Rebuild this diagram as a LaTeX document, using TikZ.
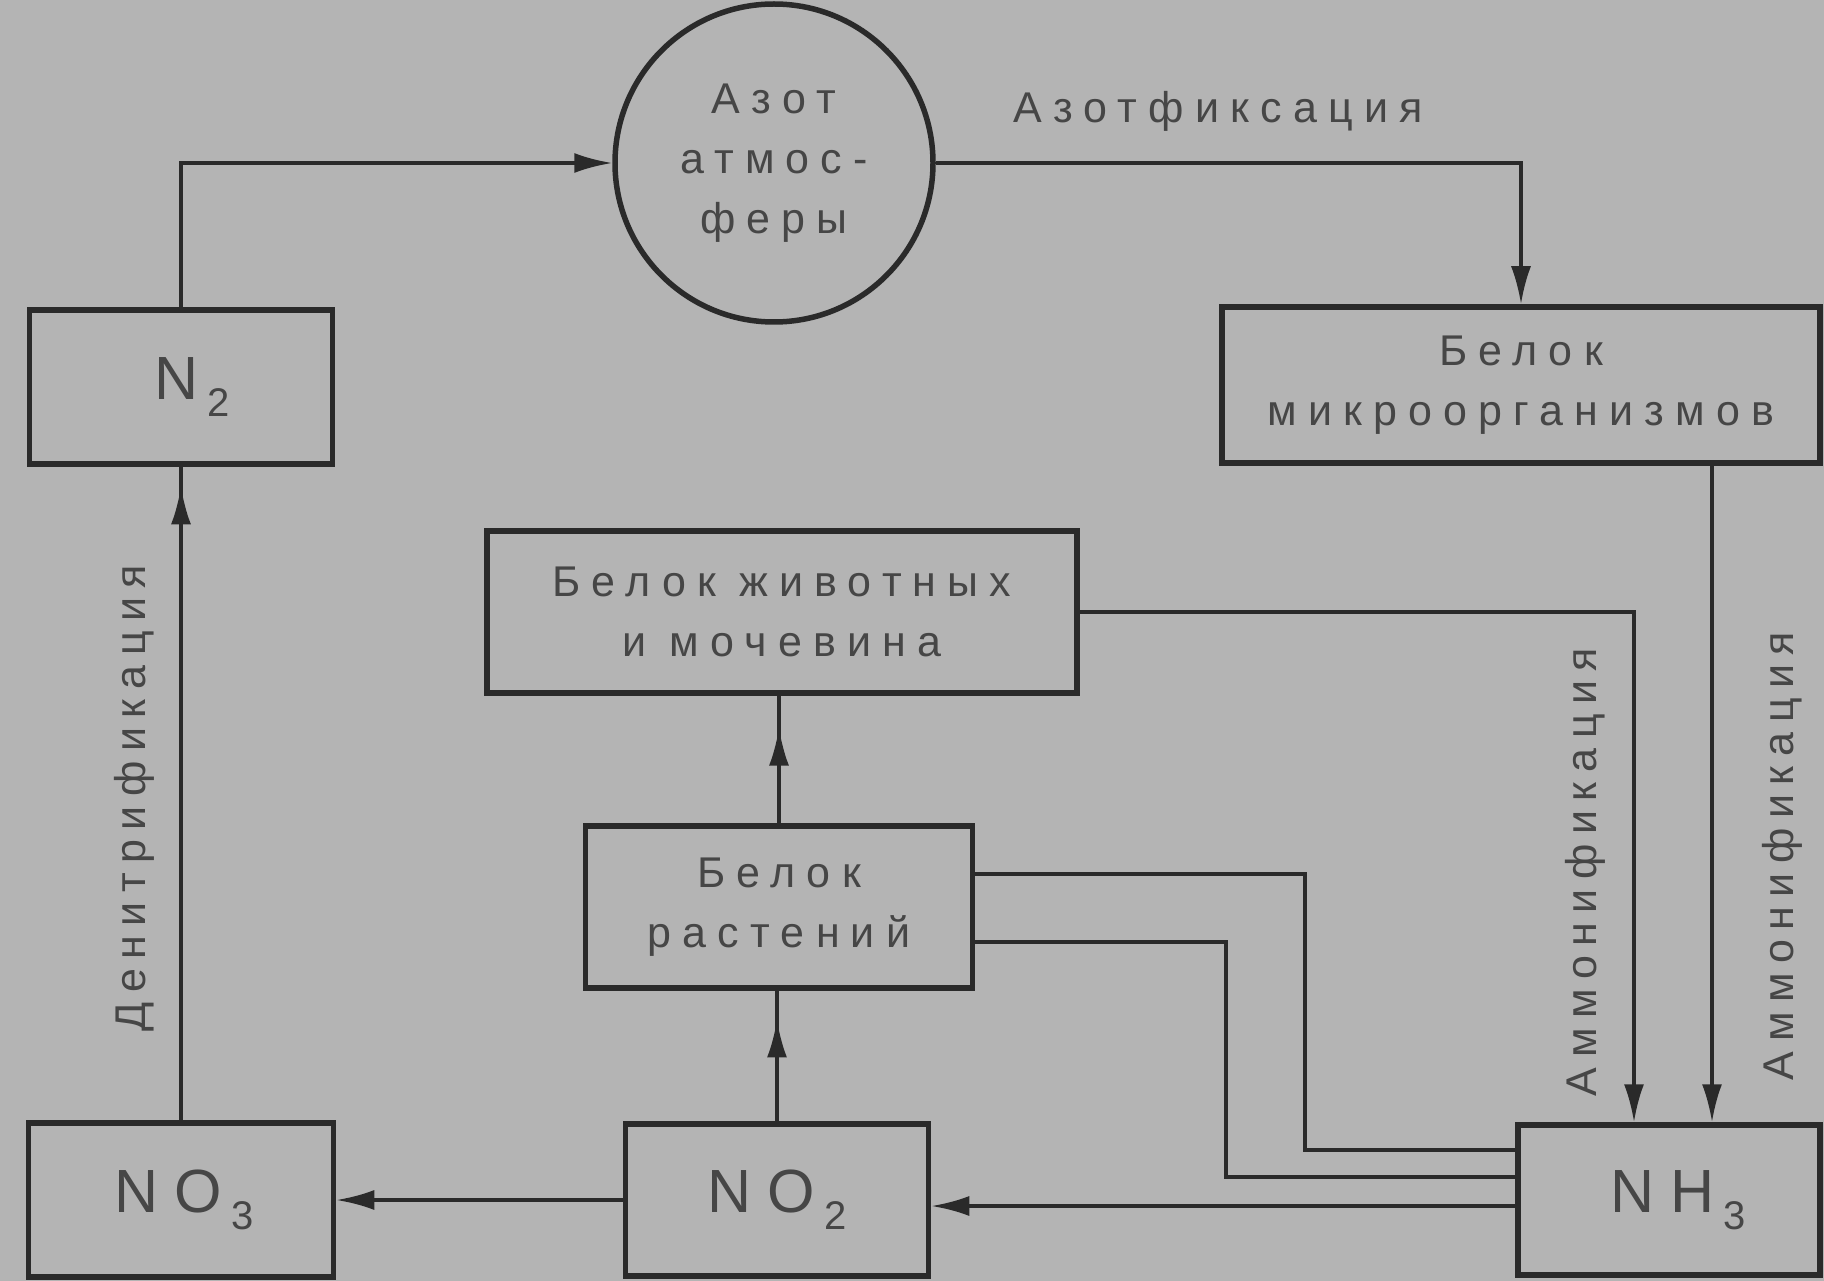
\documentclass[tikz,border=0pt]{standalone}
\usepackage{fontspec}
\setmainfont{Liberation Sans}
\newfontfamily\lsfont[LetterSpace=26]{Liberation Sans}
\newfontfamily\lrfont[LetterSpace=22]{Liberation Sans}
\usetikzlibrary{arrows.meta,decorations.markings,calc}
\definecolor{bg}{RGB}{180,180,180}
\definecolor{ink}{RGB}{42,42,42}
\definecolor{txt}{RGB}{70,70,70}
\newcommand\myBig{\fontsize{61}{62}\selectfont}
\newcommand\mySub{\fontsize{40}{40}\selectfont}
\newcommand\mySubscr[1]{\kern9pt\raisebox{-17pt}{\mySub #1}}
\begin{document}
\begin{tikzpicture}[x=1pt,y=-1pt,
  box/.style={draw=ink,line width=5.5pt,rectangle,inner sep=0pt,text=txt,align=center,
    font=\lsfont\fontsize{43}{60}\selectfont},
  lbl/.style={inner sep=0pt,text=txt,font=\lsfont\fontsize{43}{60}\selectfont},
  rlbl/.style={inner sep=0pt,text=txt,rotate=90,font=\lrfont\fontsize{43}{60}\selectfont},
  conn/.style={draw=ink,line width=3.5pt},
  arr/.style={-{Latex[length=38pt,width=20pt]}},
  midarr/.style={postaction={decorate},decoration={markings,
    mark=at position #1 with {\arrow{Latex[length=38pt,width=20pt]}}}}
]
\useasboundingbox[fill=bg] (0,0) rectangle (1824,1281);

\node[box,circle,minimum size=318pt] (atm) at (774,163) {Азот\\атмос-\\феры};
\node[box,minimum width=303pt,minimum height=154pt] (n2) at (181,387) {\hspace*{22pt}\myBig N\mySubscr{2}};
\node[box,minimum width=598pt,minimum height=156pt] (mik) at (1521,385) {Белок\\микроорганизмов};
\node[box,minimum width=590pt,minimum height=162pt] (zhiv) at (782,612) {Белок животных\\и мочевина};
\node[box,minimum width=387pt,minimum height=162pt] (rast) at (779,907) {Белок\\растений};
\node[box,minimum width=305pt,minimum height=154pt] (no3) at (181,1200) {\hspace*{6pt}\myBig NO\mySubscr{3}};
\node[box,minimum width=303pt,minimum height=152pt] (no2) at (777,1200) {\myBig NO\mySubscr{2}};
\node[box,minimum width=302pt,minimum height=150pt] (nh3) at (1669,1200) {\hspace*{18pt}\myBig NH\mySubscr{3}};

\node[lbl] (fix) at (1218,111) {Азотфиксация};
\node[rlbl] (den) at (134,798) {Денитрификация};
\node[rlbl] (am1) at (1585,872) {Аммонификация};
\node[rlbl] (am2) at (1782,856) {Аммонификация};

\coordinate (c1) at (1712,0);
\coordinate (c2) at (1634,0);
\coordinate (c3) at (1305,1150);
\coordinate (c4) at (1226,1177);

\draw[conn,arr] (n2.north) |- (atm.west);
\draw[conn,arr] (atm.east) -| (mik.north);
\draw[conn,arr] (mik.south -| c1) -- (nh3.north -| c1);
\draw[conn,arr] (zhiv.east) -| (nh3.north -| c2);
\draw[conn] ([yshift=33pt]rast.east) -| (c3) -- (c3 -| nh3.west);
\draw[conn] ([yshift=-35pt]rast.east) -| (c4) -- (c4 -| nh3.west);
\draw[conn,arr] ([yshift=-6pt]nh3.west) -- ([yshift=-6pt]no2.east);
\draw[conn,arr] (no2.west) -- (no3.east);
\draw[conn,midarr=0.97] (no3.north) -- (n2.south);
\draw[conn,midarr=0.78] (no2.north) -- (no2.north |- rast.south);
\draw[conn,midarr=0.75] (rast.north) -- (rast.north |- zhiv.south);
\end{tikzpicture}
\end{document}
